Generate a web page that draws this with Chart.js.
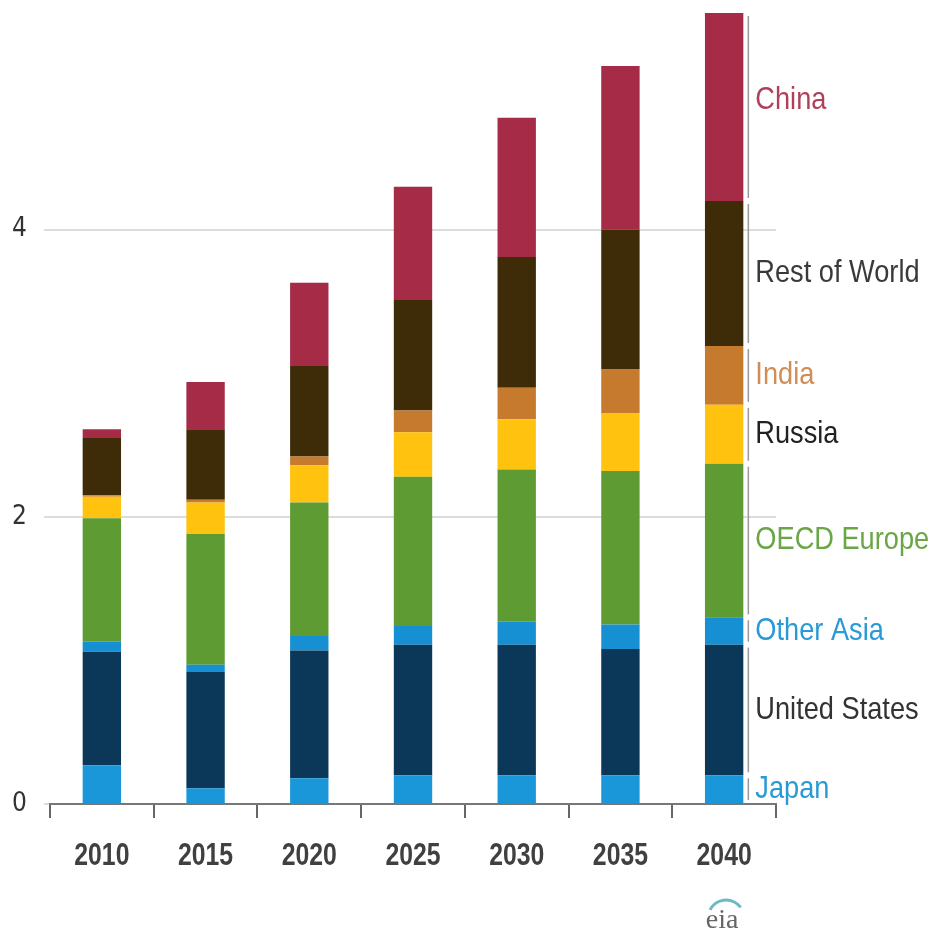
<!DOCTYPE html>
<html>
<head>
<meta charset="utf-8">
<script src="https://cdn.jsdelivr.net/npm/chart.js@4/dist/chart.umd.min.js"></script>
<style>
  html, body { margin: 0; padding: 0; background: #fff; overflow: hidden; }
  #wrap { position: relative; width: 941px; height: 933px; }
</style>
</head>
<body>
<div id="wrap"><canvas id="generation-chart"></canvas></div>
<script>
// Categories and stacked series, bottom of the stack first
const years = ['2010', '2015', '2020', '2025', '2030', '2035', '2040'];
const japan        = [0.27, 0.11, 0.18, 0.20, 0.20, 0.20, 0.20];
const unitedStates = [0.79, 0.81, 0.89, 0.91, 0.91, 0.88, 0.91];
const otherAsia    = [0.07, 0.05, 0.10, 0.13, 0.16, 0.17, 0.19];
const oecdEurope   = [0.86, 0.91, 0.93, 1.04, 1.06, 1.07, 1.07];
const russia       = [0.15, 0.22, 0.26, 0.31, 0.35, 0.40, 0.41];
const india        = [0.01, 0.02, 0.06, 0.15, 0.22, 0.31, 0.41];
const restOfWorld  = [0.40, 0.49, 0.63, 0.77, 0.91, 0.97, 1.01];
const china        = [0.06, 0.33, 0.58, 0.79, 0.97, 1.14, 1.31];
const yTicks = [0, 2, 4];

const sans = "'Liberation Sans', Arial, sans-serif";
const condensed = "'DejaVu Sans Condensed', sans-serif";

const series = [
    { label: 'Japan',         data: japan,        color: '#1a97d8', text: '#2a9ad6' },
    { label: 'United States', data: unitedStates, color: '#0b3858', text: '#333333' },
    { label: 'Other Asia',    data: otherAsia,    color: '#1690d2', text: '#2a9ad6' },
    { label: 'OECD Europe',   data: oecdEurope,   color: '#5f9b33', text: '#6aa646' },
    { label: 'Russia',        data: russia,       color: '#ffc20e', text: '#222222' },
    { label: 'India',         data: india,        color: '#c57a2e', text: '#d08d55' },
    { label: 'Rest of World', data: restOfWorld,  color: '#3e2b07', text: '#3a3a3a' },
    { label: 'China',         data: china,        color: '#a52b47', text: '#b0405a' }
];

// no narrow face installed, so squeeze a regular one horizontally
function narrowText(ctx, text, x, y, squeeze) {
    ctx.save();
    ctx.translate(x, y);
    ctx.scale(squeeze, 1);
    ctx.fillText(text, 0, 0);
    ctx.restore();
}

// Year labels under the axis, placed by the category scale
const yearLabels = {
    id: 'yearLabels',
    afterDraw(chart) {
        const ctx = chart.ctx;
        const xs = chart.scales.x;
        ctx.save();
        ctx.font = 'bold 31px ' + sans;
        ctx.fillStyle = '#404040';
        ctx.textAlign = 'center';
        ctx.textBaseline = 'middle';
        years.forEach((y, i) => narrowText(ctx, y, xs.getPixelForValue(i), xs.top + 52, 0.8));
        ctx.restore();
    }
};

// Region names beside the last bar, each with a thin bracket along its segment
const segmentLabels = {
    id: 'segmentLabels',
    afterDatasetsDraw(chart) {
        const ctx = chart.ctx;
        const last = years.length - 1;
        ctx.save();
        ctx.font = '32px ' + sans;
        ctx.textBaseline = 'middle';
        ctx.textAlign = 'left';
        chart.data.datasets.forEach((ds, i) => {
            const bar = chart.getDatasetMeta(i).data[last];
            const top = Math.min(bar.y, bar.base);
            const bottom = Math.max(bar.y, bar.base);
            const right = bar.x + bar.width / 2;
            ctx.strokeStyle = '#9a9a9a';
            ctx.lineWidth = 1.5;
            ctx.beginPath();
            ctx.moveTo(right + 5, top + 3);
            ctx.lineTo(right + 5, bottom - 3);
            ctx.stroke();
            ctx.fillStyle = series[i].text;
            // China sits a little above the middle of its block
            const mid = (top + bottom) / 2 - (i === series.length - 1 ? 7 : 0);
            narrowText(ctx, ds.label, right + 12, mid, 0.85);
        });
        ctx.restore();
    }
};

// Small agency mark under the axis
const logoMark = {
    id: 'logoMark',
    afterDraw(chart) {
        const ctx = chart.ctx;
        const x = chart.scales.x.getPixelForValue(years.length - 1);
        ctx.save();
        ctx.strokeStyle = '#6fb8c8';
        ctx.lineWidth = 3;
        ctx.beginPath();
        ctx.arc(x + 2, 918, 18, -Math.PI * 0.85, -Math.PI * 0.2);
        ctx.stroke();
        ctx.fillStyle = '#666';
        ctx.font = '28px "Liberation Serif", serif';
        ctx.textAlign = 'center';
        ctx.textBaseline = 'alphabetic';
        ctx.fillText('eia', x - 2, 928);
        ctx.restore();
    }
};

const ctx = document.getElementById('generation-chart').getContext('2d');
const generationChart = new Chart(ctx, {
    type: 'bar',
    data: {
        labels: years,
        datasets: series.map(s => ({
            label: s.label,
            data: s.data,
            backgroundColor: s.color,
            borderWidth: 0,
            categoryPercentage: 1,
            barPercentage: 0.37
        }))
    },
    options: {
        responsive: true,
        maintainAspectRatio: false,
        animation: false,
        layout: { padding: { left: 0, right: 165, top: 0, bottom: 0 } },
        plugins: {
            legend: { display: false },
            tooltip: { enabled: false }
        },
        scales: {
            x: {
                stacked: true,
                grid: {
                    display: true,
                    drawOnChartArea: false,
                    drawTicks: true,
                    tickLength: 14,
                    color: '#666',
                    lineWidth: 2
                },
                border: { display: true, color: '#777', width: 2 },
                ticks: { display: false },
                afterFit(scale) {
                    scale.height = 129;
                    scale.paddingLeft = 0;
                    scale.paddingRight = 0;
                }
            },
            y: {
                stacked: true,
                min: 0,
                max: 5.6,
                grid: {
                    color: '#dcdcdc',
                    lineWidth: 2,
                    drawTicks: true,
                    tickLength: 6
                },
                border: { display: false },
                ticks: {
                    color: '#333',
                    padding: 17,
                    font: { family: condensed, size: 26 }
                },
                afterBuildTicks(scale) {
                    scale.ticks = yTicks.map(v => ({ value: v }));
                },
                afterFit(scale) {
                    scale.width = 50;
                    scale.paddingTop = 0;
                    scale.paddingBottom = 0;
                }
            }
        }
    },
    plugins: [segmentLabels, yearLabels, logoMark]
});
</script>
</body>
</html>
